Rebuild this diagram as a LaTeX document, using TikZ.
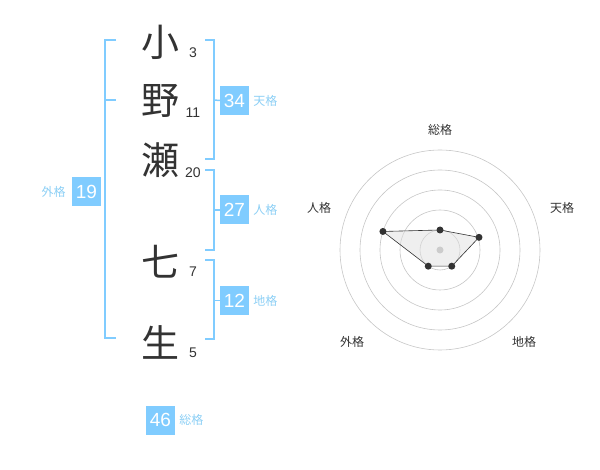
\documentclass[tikz,border=0pt]{standalone}
\usepackage{fontspec}
\usetikzlibrary{positioning}
\setmainfont{Liberation Sans}
\newfontfamily\jpfont{Noto Sans CJK JP}
\definecolor{kakublue}{HTML}{80CCFF}
\definecolor{kakutext}{HTML}{8CCFF5}
\definecolor{inkgray}{HTML}{333333}
\tikzset{
  kanji/.style={font=\jpfont\fontsize{38}{38}\selectfont, text=inkgray, inner sep=0pt},
  strokes/.style={font=\fontsize{14}{14}\selectfont, text=inkgray, inner sep=0pt},
  kakubox/.style={fill=kakublue, text=white, minimum width=29pt, minimum height=29pt,
                  inner sep=0pt, font=\fontsize{19}{19}\selectfont},
  kakulabel/.style={font=\jpfont\fontsize{12}{12}\selectfont, text=kakutext, inner sep=0pt},
  bracket/.style={draw=kakublue, line width=1.5pt},
  ring/.style={draw=gray!45, line width=0.6pt},
  axislabel/.style={font=\jpfont\fontsize{12}{12}\selectfont, text=inkgray, inner sep=0pt},
  dot/.style={circle, fill=inkgray, inner sep=0pt, minimum size=7pt},
}
\begin{document}
\begin{tikzpicture}[x=1pt, y=-1pt]
  \useasboundingbox (0,0) rectangle (600,470);

  % name characters and stroke counts
  \node[kanji] (c1) at (160,42) {小};
  \node[kanji] (c2) at (160,101) {野};
  \node[kanji] (c3) at (160,160) {瀬};
  \node[kanji] (c4) at (160,262) {七};
  \node[kanji] (c5) at (160,342) {生};
  \node[strokes] (s1) at (193,53) {3};
  \node[strokes] (s2) at (193,113) {11};
  \node[strokes] (s3) at (193,173) {20};
  \node[strokes] (s4) at (193,272) {7};
  \node[strokes] (s5) at (193,353) {5};

  % boxes and labels
  \node[kakubox] (ten) at (234.5,100.5) {34};
  \node[kakubox] (jin) at (234.5,210) {27};
  \node[kakubox] (chi) at (234.5,300.5) {12};
  \node[kakubox] (gai) at (86.5,192) {19};
  \node[kakubox] (sou) at (160.5,420) {46};
  \node[kakulabel, right=4pt of ten] (tenl) {天格};
  \node[kakulabel, right=4pt of jin] (jinl) {人格};
  \node[kakulabel, right=4pt of chi] (chil) {地格};
  \node[kakulabel, left=6pt of gai] (gail) {外格};
  \node[kakulabel, right=4pt of sou] (soul) {総格};

  % brackets
  \draw[bracket] (116,40) -- (105,40) -- (105,338) -- (116,338);
  \draw[bracket] (105,100) -- (116,100);
  \draw[bracket] (205,40) -- (214,40) -- (214,159) -- (205,159);
  \draw[bracket] (214,100) -- (ten.west);
  \draw[bracket] (205,170) -- (214,170) -- (214,250) -- (205,250);
  \draw[bracket] (214,210) -- (jin.west);
  \draw[bracket] (205,260) -- (214,260) -- (214,339) -- (205,339);
  \draw[bracket] (214,300.5) -- (chi.west);

  % radar chart
  \node[axislabel] (a1) at (440,130) {総格};
  \node[axislabel] (a2) at (562,208) {天格};
  \node[axislabel] (a3) at (524,342) {地格};
  \node[axislabel] (a4) at (352,342) {外格};
  \node[axislabel] (a5) at (319,208) {人格};
  \begin{scope}[shift={(440,250)}, x=1pt, y=1pt]
    \foreach \r in {20,40,60,80,100}
      \draw[ring] (0,0) circle (\r);
    \coordinate (p1) at (90:20);
    \coordinate (p2) at (18:41);
    \coordinate (p3) at (-54:20);
    \coordinate (p4) at (-126:20);
    \coordinate (p5) at (162:60);
    \filldraw[fill=gray!25, fill opacity=0.5, draw=inkgray, line width=0.6pt]
      (p1) -- (p2) -- (p3) -- (p4) -- (p5) -- cycle;
    \node[dot, fill=gray!40] (mid) at (0,0) {};
    \foreach \p in {p1,p2,p3,p4,p5}
      \node[dot] at (\p) {};
  \end{scope}
\end{tikzpicture}
\end{document}
